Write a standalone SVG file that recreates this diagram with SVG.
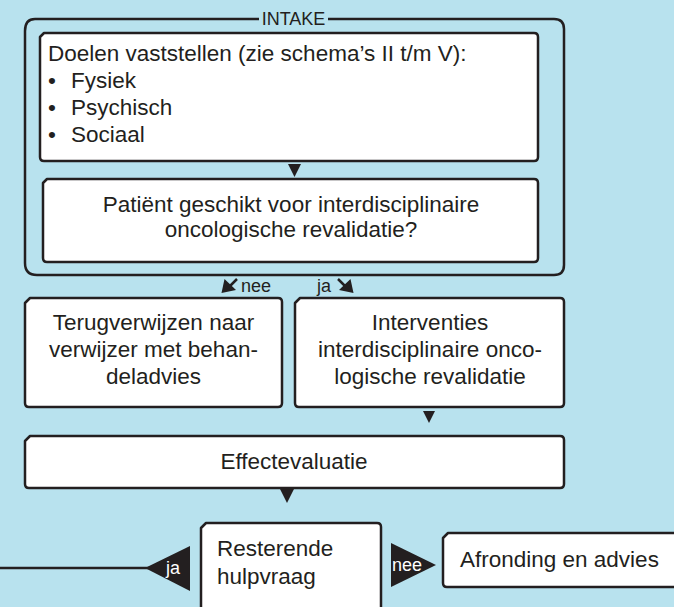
<svg xmlns="http://www.w3.org/2000/svg" width="674" height="607" viewBox="0 0 674 607">
  <style>
    .bg { fill: #b8e2ee; }
    .box { fill: #ffffff; stroke: #231f20; stroke-width: 2.5; stroke-linejoin: round; }
    .frame { fill: none; stroke: #231f20; stroke-width: 2.5; }
    .t { font-family: "Liberation Sans", Arial, sans-serif; font-size: 22.5px; fill: #231f20; }
    .c { text-anchor: middle; }
    .small { font-family: "Liberation Sans", Arial, sans-serif; font-size: 18px; fill: #231f20; }
    .tag { font-family: "Liberation Sans", Arial, sans-serif; font-size: 18px; fill: #ffffff; }
    .tri { fill: #231f20; }
    .line { stroke: #231f20; stroke-width: 2.5; fill: none; }
  </style>

  <rect class="bg" x="0" y="0" width="674" height="607"/>

  <!-- intake frame with label in the top edge -->
  <g id="intake">
    <path class="frame" d="M35,19 H554 Q564,19 564,29 V265 Q564,275 554,275 H37 Q25,275 25,263 V31 Q25,19 35,19 Z"/>
    <rect class="bg" x="259" y="10" width="69" height="16"/>
    <text class="small c" x="293.5" y="25">INTAKE</text>
  </g>

  <g id="doelen">
    <path class="box" d="M44,33 H534 Q538,33 538,37 V157 Q538,161 534,161 H44 Q40,161 40,157 V37 Z"/>
    <text class="t" x="48" y="61">Doelen vaststellen (zie schema’s II t/m V):</text>
    <text class="t" x="48" y="88">•</text>
    <text class="t" x="71" y="88">Fysiek</text>
    <text class="t" x="48" y="115">•</text>
    <text class="t" x="71" y="115">Psychisch</text>
    <text class="t" x="48" y="142">•</text>
    <text class="t" x="71" y="142">Sociaal</text>
  </g>

  <g id="geschikt">
    <path class="box" d="M47,179 H534 Q538,179 538,183 V258 Q538,262 534,262 H47 Q43,262 43,258 V183 Z"/>
    <text class="t c" x="291" y="212">Patiënt geschikt voor interdisciplinaire</text>
    <text class="t c" x="291" y="237">oncologische revalidatie?</text>
  </g>

  <g id="terugverwijzen">
    <path class="box" d="M30,298 H278 Q282,298 282,302 V403 Q282,407 278,407 H29 Q25,407 25,403 V303 Z"/>
    <text class="t c" x="153.5" y="330">Terugverwijzen naar</text>
    <text class="t c" x="153.5" y="357">verwijzer met behan-</text>
    <text class="t c" x="153.5" y="384">deladvies</text>
  </g>

  <g id="interventies">
    <path class="box" d="M300,298 H560 Q564,298 564,302 V403 Q564,407 560,407 H299 Q295,407 295,403 V303 Z"/>
    <text class="t c" x="430" y="330">Interventies</text>
    <text class="t c" x="430" y="357">interdisciplinaire onco-</text>
    <text class="t c" x="430" y="384">logische revalidatie</text>
  </g>

  <g id="effectevaluatie">
    <path class="box" d="M30,436 H560 Q564,436 564,440 V484 Q564,488 560,488 H29 Q25,488 25,484 V441 Z"/>
    <text class="t c" x="294" y="469">Effectevaluatie</text>
  </g>

  <g id="resterende">
    <path class="box" d="M206,523 H377 Q381,523 381,527 V640 H201 V528 Z"/>
    <text class="t" x="217" y="556">Resterende</text>
    <text class="t" x="217" y="584">hulpvraag</text>
  </g>

  <g id="afronding">
    <path class="box" d="M448,533 H690 V587 H447 Q443,587 443,583 V538 Z"/>
    <text class="t" x="460" y="567">Afronding en advies</text>
  </g>

  <g id="connectors">
    <!-- flow arrowheads between stacked boxes -->
    <polygon class="tri" points="288,164 301,164 294.5,177"/>
    <polygon class="tri" points="423,411 435,411 429,423"/>
    <polygon class="tri" points="280,489 294,489 287,503"/>

    <!-- nee / ja split under the intake -->
    <line class="line" x1="237" y1="279" x2="226" y2="290"/>
    <polygon class="tri" points="221.5,293 224.5,279 236,290"/>
    <text class="small" x="241" y="292">nee</text>
    <line class="line" x1="338" y1="279" x2="349" y2="290"/>
    <polygon class="tri" points="353.5,293 350.5,279 339,290"/>
    <text class="small" x="317" y="292">ja</text>

    <!-- ja: back to the left -->
    <line class="line" x1="0" y1="568" x2="150" y2="568"/>
    <polygon class="tri" points="190,546 190,591 145,568"/>
    <text class="tag" x="166" y="574">ja</text>

    <!-- nee: to closing -->
    <polygon class="tri" points="391,543 391,587 436,565"/>
    <text class="tag" x="392" y="571">nee</text>
  </g>
</svg>
